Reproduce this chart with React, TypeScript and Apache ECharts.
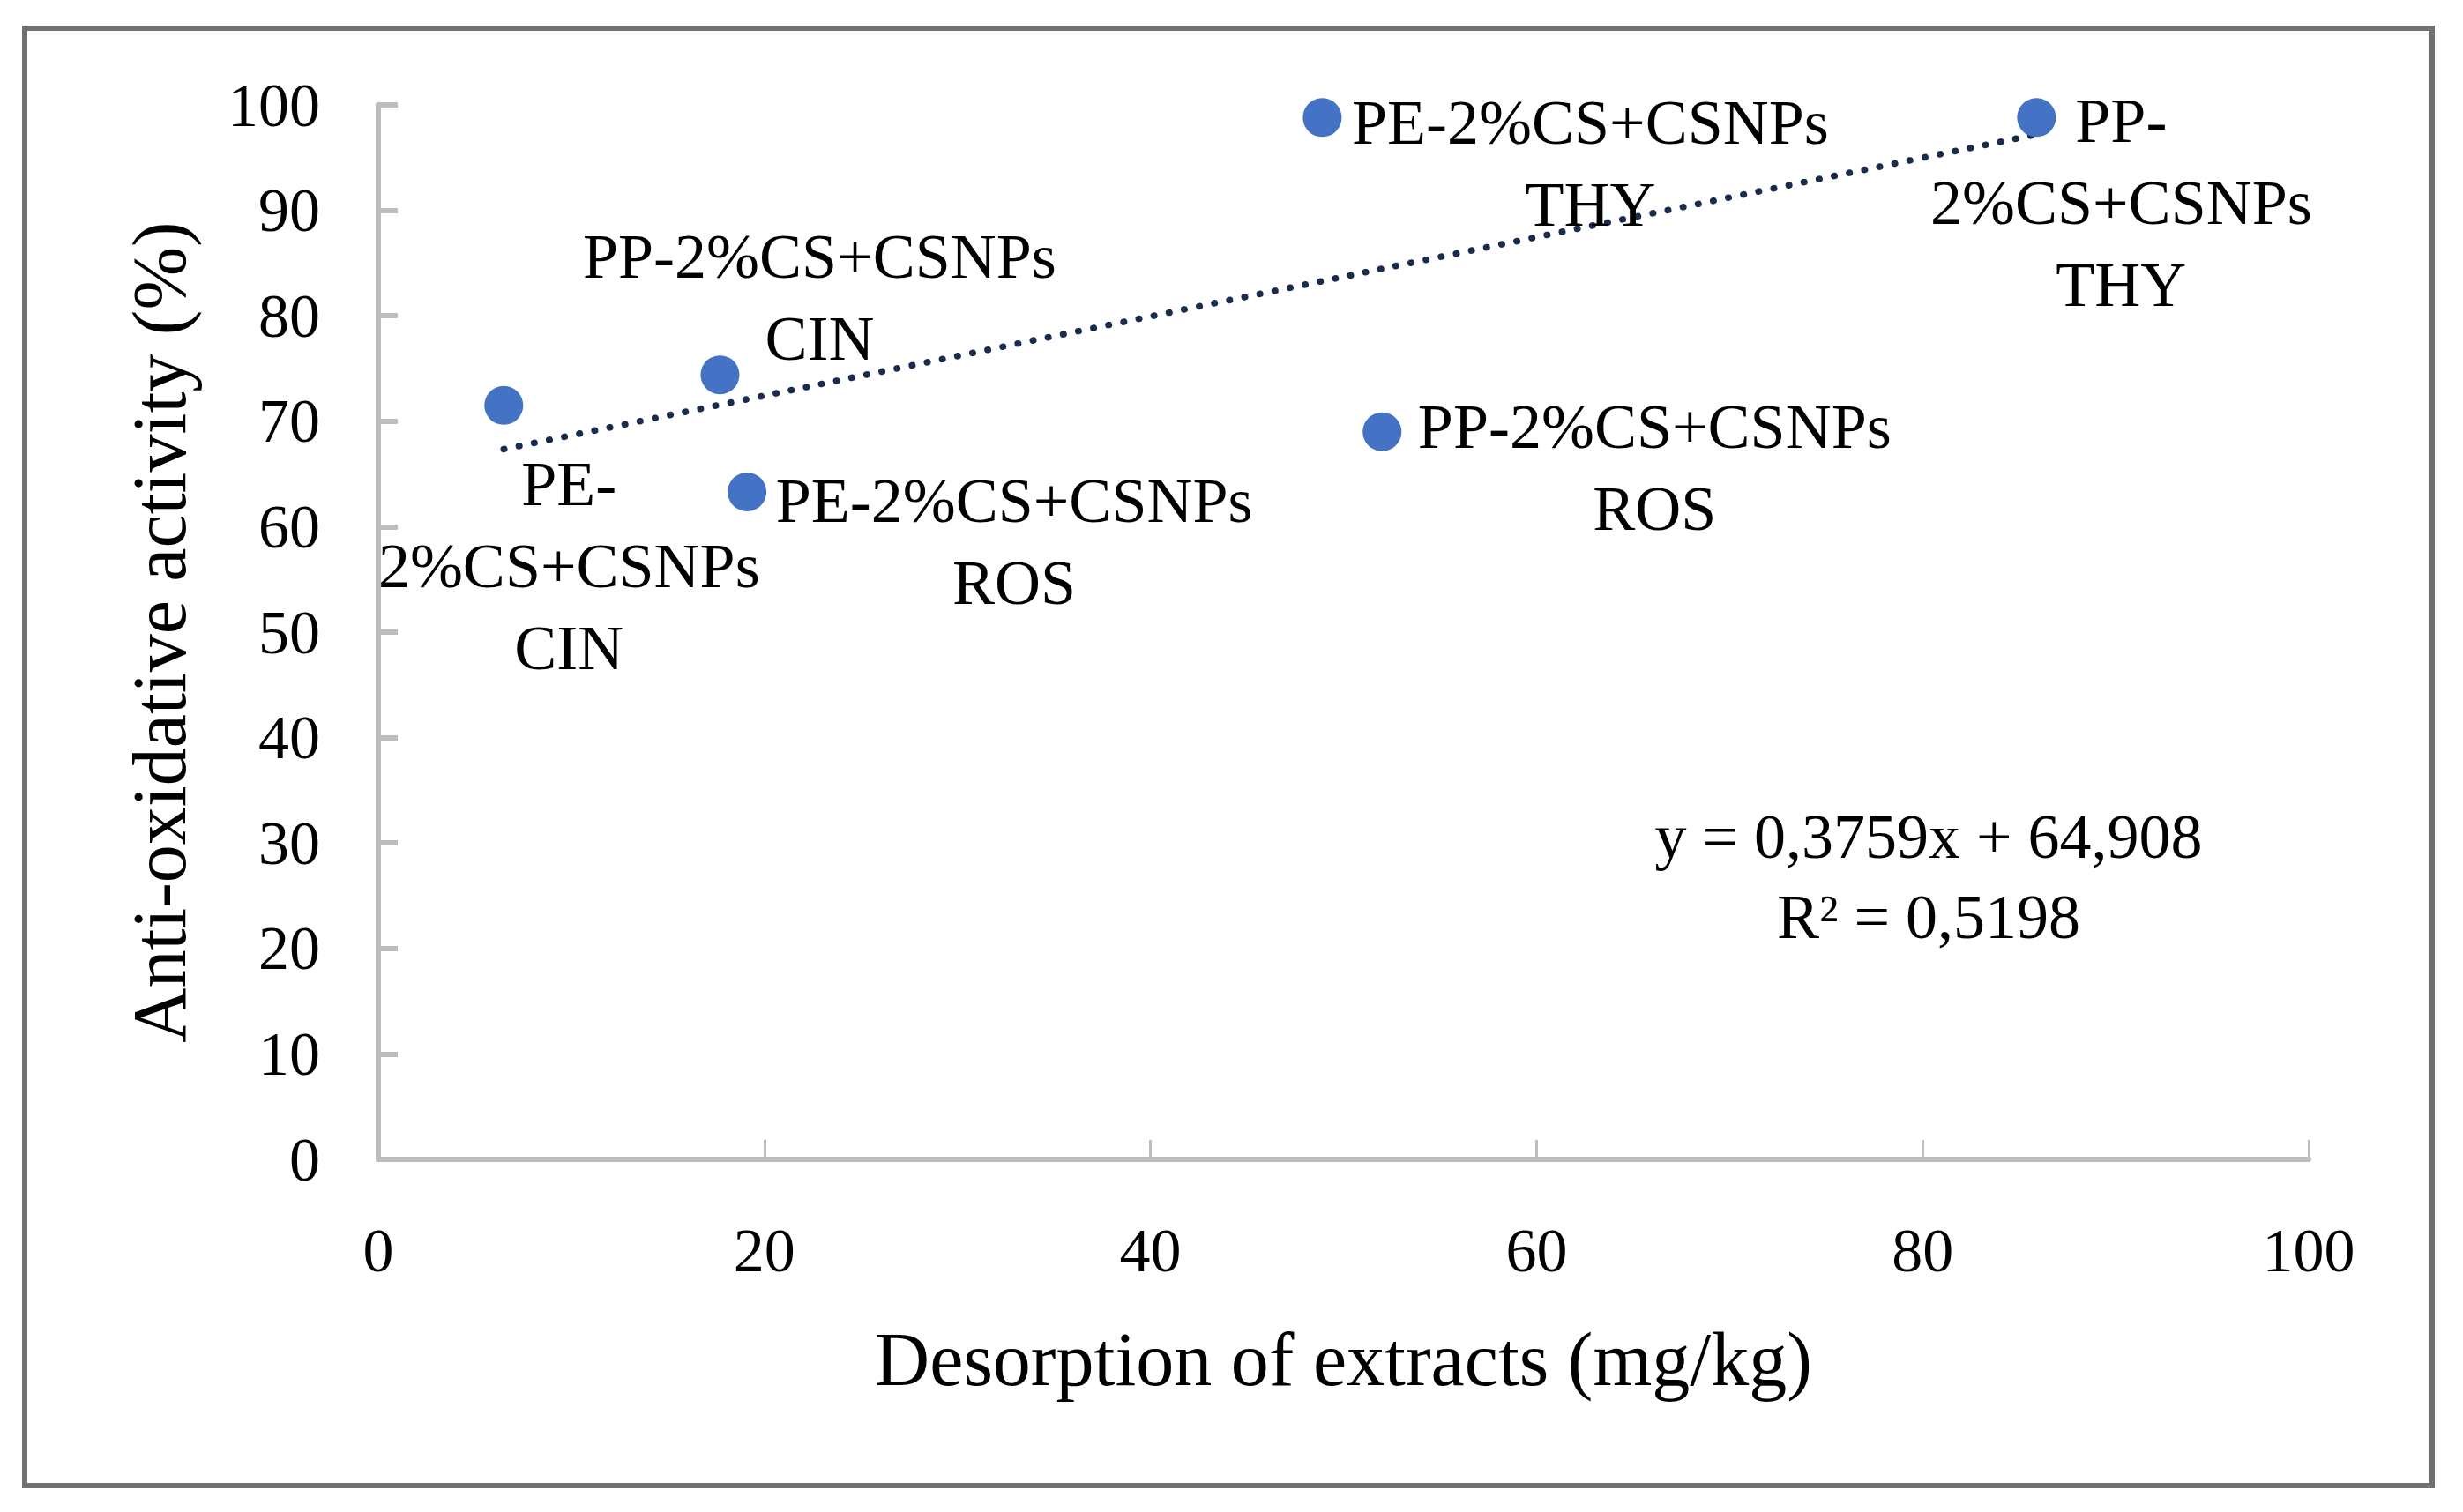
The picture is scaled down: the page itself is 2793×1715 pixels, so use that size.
import React, { useEffect, useRef } from "react";
import * as echarts from "echarts";

const W = 2793;
const H = 1715;

const pointNames = [
  "PE-\n2%CS+CSNPs\nCIN",
  "PP-2%CS+CSNPs\nCIN",
  "PE-2%CS+CSNPs\nROS",
  "PE-2%CS+CSNPs\nTHY",
  "PP-2%CS+CSNPs\nROS",
  "PP-\n2%CS+CSNPs\nTHY",
];
const desorption = [6.5, 17.7, 19.1, 48.9, 52.0, 85.9];
const antioxidative = [71.5, 74.4, 63.3, 98.8, 69.0, 98.8];

// label placement offsets (px) relative to each marker
const labelOffsets = [
  [74, 182],
  [113, -88],
  [303, 57],
  [304, 52],
  [309, 41],
  [96, 97],
];

const trendX = [6.5, 85.9];
const trendY = [67.35, 97.2];

const xTicks = [0, 20, 40, 60, 80, 100];
const yTicks = [0, 10, 20, 30, 40, 50, 60, 70, 80, 90, 100];

const equationText = "y = 0,3759x + 64,908\nR² = 0,5198";

const FONT = "'Liberation Serif', 'DejaVu Serif', serif";

export default function App() {
  const ref = useRef<HTMLDivElement>(null);
  useEffect(() => {
    if (!ref.current) return;
    const chart = echarts.init(ref.current, undefined, { renderer: "svg" });
    const axisColor = "#BDBDBD";
    chart.setOption({
      animation: false,
      backgroundColor: "#ffffff",
      grid: { left: 429, top: 119, width: 2189, height: 1196, containLabel: false },
      xAxis: {
        type: "value",
        min: xTicks[0],
        max: xTicks[xTicks.length - 1],
        interval: 20,
        name: "Desorption of extracts (mg/kg)",
        nameLocation: "middle",
        nameGap: 184,
        nameTextStyle: { fontFamily: FONT, fontSize: 86, color: "#000" },
        axisLine: { show: true, lineStyle: { color: axisColor, width: 6 } },
        axisTick: { show: true, inside: true, length: 22, lineStyle: { color: axisColor, width: 3 } },
        axisLabel: { fontFamily: FONT, fontSize: 70, color: "#000", margin: 68 },
        splitLine: { show: false },
      },
      yAxis: {
        type: "value",
        min: yTicks[0],
        max: yTicks[yTicks.length - 1],
        interval: 10,
        name: "Anti-oxidative activity (%)",
        nameLocation: "middle",
        nameGap: 205,
        nameRotate: 90,
        nameTextStyle: { fontFamily: FONT, fontSize: 86, color: "#000" },
        axisLine: { show: true, lineStyle: { color: axisColor, width: 6 } },
        axisTick: { show: true, inside: true, length: 22, lineStyle: { color: axisColor, width: 6 } },
        axisLabel: { fontFamily: FONT, fontSize: 70, color: "#000", margin: 66 },
        splitLine: { show: false },
      },
      series: [
        {
          type: "line",
          data: trendX.map((x, i) => [x, trendY[i]]),
          symbol: "none",
          lineStyle: { color: "#1A2B4C", width: 7.5, type: [0.5, 17], cap: "round" },
          z: 1,
        },
        {
          type: "scatter",
          symbol: "circle",
          symbolSize: 44,
          itemStyle: { color: "#4472C4", opacity: 1 },
          z: 2,
          data: desorption.map((x, i) => ({
            value: [x, antioxidative[i]],
            label: {
              show: true,
              position: "inside",
              formatter: pointNames[i],
              offset: labelOffsets[i],
              align: "center",
              verticalAlign: "middle",
              fontFamily: FONT,
              fontSize: 72,
              lineHeight: 93,
              color: "#000",
              opacity: 1,
              textBorderWidth: 0,
            },
          })),
        },
      ],
      graphic: [
        {
          type: "rect",
          shape: { x: 28, y: 32, width: 2730, height: 1653 },
          style: { fill: "none", stroke: "#727070", lineWidth: 6 },
          silent: true,
        },
        {
          type: "text",
          x: 2187,
          y: 994,
          style: {
            text: equationText,
            fontFamily: FONT,
            fontSize: 72,
            lineHeight: 91,
            fill: "#000",
            align: "center",
            verticalAlign: "middle",
          },
        },
      ],
    });
    return () => chart.dispose();
  }, []);
  return (
    <div
      ref={ref}
      style={{ position: "absolute", left: 0, top: 0, width: W, height: H }}
    />
  );
}
